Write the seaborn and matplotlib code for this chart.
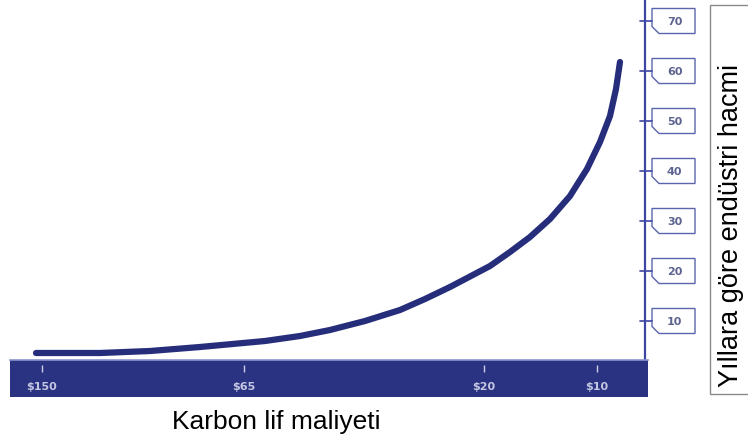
import matplotlib
matplotlib.use("Agg")
import matplotlib.pyplot as plt
from matplotlib.patches import Rectangle, Polygon
from matplotlib.transforms import blended_transform_factory
import seaborn as sns
import pandas as pd

# ---- data ----
cost_labels = ["$150", "$65", "$20", "$10"]
cost_positions = [42, 244, 484, 597]          # position along the cost axis
curve_positions = [36, 100, 150, 200, 265, 300, 330, 365, 400, 425, 450, 470,
                   490, 510, 530, 550, 570, 587, 600, 610, 616, 620]
industry_volume = [3.6, 3.6, 4.0, 4.8, 6.0, 7.0, 8.2, 10.0, 12.2, 14.4, 16.8,
                   18.9, 21.0, 23.8, 26.8, 30.4, 35.0, 40.4, 45.8, 51.0, 56.4,
                   61.8]
volume_ticks = [10, 20, 30, 40, 50, 60, 70]
x_title = "Karbon lif maliyeti"
y_title = "Yıllara göre endüstri hacmi"

df = pd.DataFrame({"pos": curve_positions, "volume": industry_volume})

sns.set_theme(style="white")
plt.rcParams["font.family"] = ["Liberation Sans", "DejaVu Sans"]

W, H = 748, 439
fig = plt.figure(figsize=(W / 100, H / 100), dpi=100)
fig.patch.set_facecolor("white")

NAVY = "#262e7b"
AXIS = "#3c46a2"
TICKTXT = "#5d6391"

# main plot area
ax = fig.add_axes([10 / W, (H - 361) / H, 635 / W, 361 / H])
sns.lineplot(data=df, x="pos", y="volume", color=NAVY, linewidth=4.5,
             ax=ax, solid_capstyle="round", solid_joinstyle="round")
ax.set_xlim(10, 645)
ax.set_ylim(2.2, 74.4)
ax.set_xlabel("")
ax.set_ylabel("")
ax.set_xticks([])
ax.set_yticks([])
for s in ["top", "left", "bottom"]:
    ax.spines[s].set_visible(False)
ax.spines["right"].set_color(AXIS)
ax.spines["right"].set_linewidth(1.6)
ax.set_facecolor("white")

# y ticks with tab-shaped label boxes on the right
bt = blended_transform_factory(ax.transAxes, ax.transData)
px = 1 / 635.0
for v in volume_ticks:
    ax.plot([1 - 5 * px, 1 + 7 * px], [v, v], color=AXIS, lw=1.2,
            transform=bt, clip_on=False)
    left = 1 + 7 * px
    right = 1 + 50 * px
    top = v + 2.5
    bot = v - 2.5
    notch_x = 7 * px
    notch_y = 1.4
    poly = Polygon([(left, top), (right, top), (right, bot),
                    (left + notch_x, bot), (left, bot + notch_y)],
                   closed=True, fc="white", ec="#5a64ad", lw=1.0,
                   transform=bt, clip_on=False)
    ax.add_patch(poly)
    ax.text((left + right) / 2 + 1 * px, v, str(v), transform=bt,
            ha="center", va="center", fontsize=8, fontweight="bold",
            color=TICKTXT, family=["DejaVu Sans"], clip_on=False)

# bottom navy axis bar
bar = fig.add_axes([10 / W, (H - 398) / H, 638 / W, 37 / H])
bar.set_facecolor("#2a3282")
bar.set_xlim(10, 648)
bar.set_ylim(0, 1)
bar.set_xticks([])
bar.set_yticks([])
for s in ["left", "right", "bottom"]:
    bar.spines[s].set_visible(False)
bar.spines["top"].set_color("#8c93cc")
bar.spines["top"].set_linewidth(1.2)
bar.vlines(cost_positions, 0.68, 0.86, color="#c9cde8", lw=1.0)
for p, lab in zip(cost_positions, cost_labels):
    bar.text(p, 0.30, lab, ha="center", va="center", fontsize=8,
             fontweight="bold", color="#c3c7e2", family=["DejaVu Sans"])

# x title
fig.text(276 / W, 1 - 422 / H, x_title, ha="center", va="center",
         fontsize=19, color="black")

# y title inside a framed box on the right
fig.add_artist(Rectangle((710 / W, 1 - 395 / H), 45 / W, 389 / H,
                         transform=fig.transFigure, fc="white",
                         ec="#8a8a8a", lw=1.0))
fig.text(731 / W, 1 - 225 / H, y_title, rotation=90, ha="center",
         va="center", fontsize=19.5, color="black")

fig.savefig("out.png", dpi=100, facecolor="white")
